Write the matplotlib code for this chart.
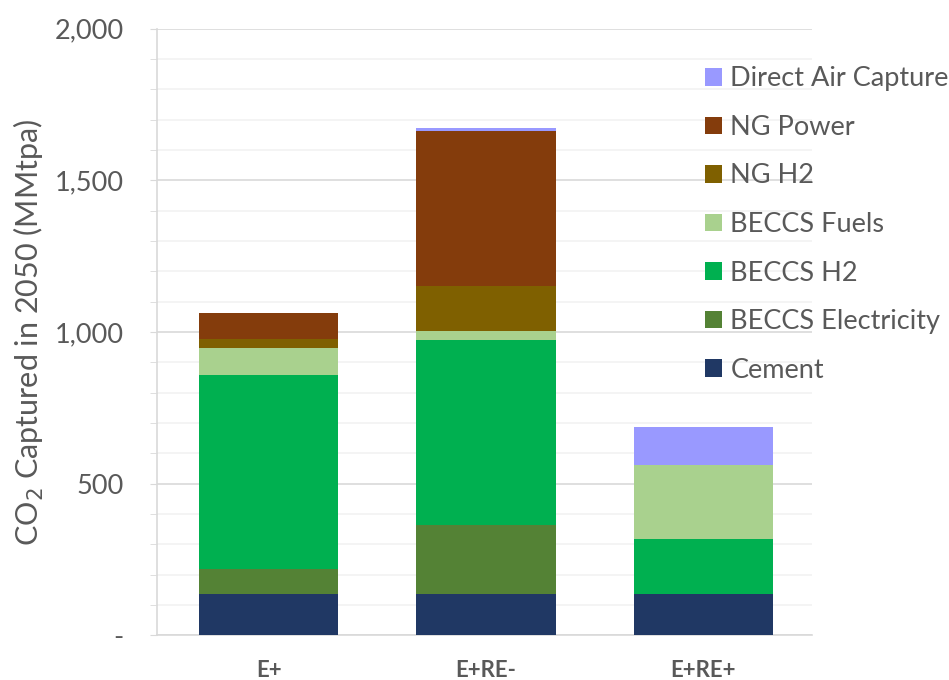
import matplotlib
matplotlib.use("Agg")
import matplotlib.pyplot as plt
from matplotlib.patches import Patch
from matplotlib.ticker import MultipleLocator, FuncFormatter
import numpy as np

plt.rcParams['font.family'] = ['Lato', 'DejaVu Sans']

scenarios = ["E+", "E+RE-", "E+RE+"]
series_names = ["Cement", "BECCS Electricity", "BECCS H2", "BECCS Fuels",
                "NG H2", "NG Power", "Direct Air Capture"]
cement = [137, 137, 137]
beccs_elec = [81, 227, 0]
beccs_h2 = [641, 611, 181]
beccs_fuels = [89, 29, 242]
ng_h2 = [30, 149, 0]
ng_power = [85, 510, 0]
dac = [0, 10, 127]
colors = ["#203864", "#548235", "#00B050", "#A9D18E", "#7F6000", "#843C0C", "#9999FF"]

values = [cement, beccs_elec, beccs_h2, beccs_fuels, ng_h2, ng_power, dac]

W, H = 949, 680
fig = plt.figure(figsize=(W / 100, H / 100), dpi=100)
ax = fig.add_axes([157 / W, 1 - 635.4 / H, (812 - 157) / W, (635.4 - 28.6) / H])

text_col = "#595959"
x = np.arange(len(scenarios))
bottom = np.zeros(len(scenarios))
for vals, col, name in zip(values, colors, series_names):
    ax.bar(x, vals, width=0.64, bottom=bottom, color=col, label=name, zorder=3)
    bottom += np.array(vals)

ax.set_xlim(-0.514, 2.5)
ax.set_ylim(0, 2000)
ax.yaxis.set_major_locator(MultipleLocator(500))
ax.yaxis.set_minor_locator(MultipleLocator(100))
ax.yaxis.set_major_formatter(FuncFormatter(lambda v, p: "-" if v == 0 else f"{int(v):,}"))
ax.grid(axis='y', which='major', color="#D9D9D9", linewidth=1.2, zorder=0)
ax.grid(axis='y', which='minor', color="#F2F2F2", linewidth=1.2, zorder=0)
ax.set_axisbelow(True)

for s in ["top", "right"]:
    ax.spines[s].set_visible(False)
ax.spines["left"].set_color("#D9D9D9")
ax.spines["bottom"].set_color("#D9D9D9")
ax.spines["left"].set_linewidth(1.2)
ax.spines["bottom"].set_linewidth(1.2)

ax.tick_params(axis='y', which='both', direction='out', length=5, color="#D9D9D9",
               labelsize=19.5, labelcolor=text_col, pad=19)
ax.set_xticks(x)
ax.set_xticklabels(scenarios, fontsize=16, fontweight='bold', color=text_col)
ax.tick_params(axis='x', length=0, pad=18)

ax.set_ylabel("CO$_2$ Captured in 2050 (MMtpa)", fontsize=22, color=text_col)
ax.yaxis.set_label_coords(-(157 - 46) / (812 - 157), 0.5)

handles = [Patch(facecolor=c, edgecolor='none') for c in colors][::-1]
labels = series_names[::-1]
fig.legend(handles, labels, loc='center left', bbox_to_anchor=(705 / W, 1 - 224.5 / H),
           frameon=False, fontsize=19.5, labelcolor=text_col, handlelength=0.62,
           handleheight=0.62, handletextpad=0.32, labelspacing=0.87,
           borderpad=0, borderaxespad=0)

fig.savefig("out.png", dpi=100)
